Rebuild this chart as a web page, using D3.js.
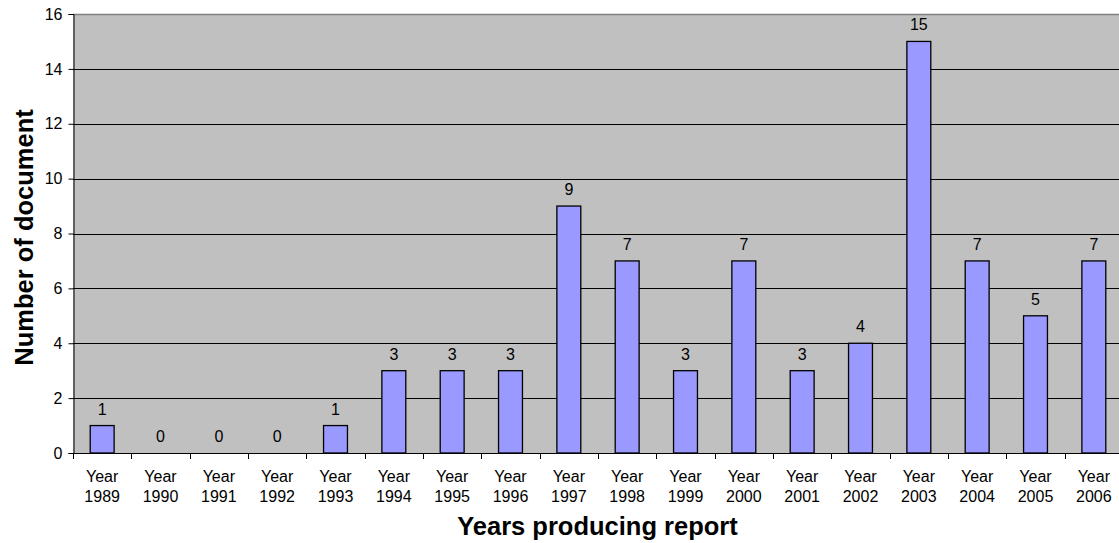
<!DOCTYPE html>
<html>
<head>
<meta charset="utf-8">
<script src="https://cdn.jsdelivr.net/npm/d3@7"></script>
<style>
  html, body { margin: 0; padding: 0; background: #ffffff; }
  svg { display: block; font-family: Arial, "Liberation Sans", sans-serif; }
</style>
</head>
<body>
<svg id="chart" width="1119" height="543"></svg>
<script>
// Reports produced per year
const years = ["1989","1990","1991","1992","1993","1994","1995","1996","1997",
               "1998","1999","2000","2001","2002","2003","2004","2005","2006"];
const counts = [1,0,0,0,1,3,3,3,9,7,3,7,3,4,15,7,5,7];
const yTicks = [0,2,4,6,8,10,12,14,16];

const svg = d3.select("#chart");
const plot = { left: 73, top: 14, width: 1050, height: 439 };
const labelSize = 16;
const titleSize = 25.5;

const x = d3.scaleBand()
  .domain(years)
  .range([plot.left, plot.left + plot.width]);

const bar = d3.scaleBand()
  .domain(years)
  .range([plot.left, plot.left + plot.width])
  .paddingInner(0.59)
  .paddingOuter(0.295);

const y = d3.scaleLinear()
  .domain([0, 16])
  .range([plot.top + plot.height, plot.top]);

// plot background
svg.append("rect")
  .attr("x", plot.left).attr("y", plot.top)
  .attr("width", plot.width).attr("height", plot.height)
  .attr("fill", "#c0c0c0");

// horizontal gridlines
svg.append("g")
  .selectAll("line")
  .data(yTicks.filter(d => d > 0 && d < 16))
  .join("line")
  .attr("x1", plot.left).attr("x2", plot.left + plot.width)
  .attr("y1", d => Math.round(y(d)) + 0.5).attr("y2", d => Math.round(y(d)) + 0.5)
  .attr("stroke", "#000").attr("stroke-width", 1);

// top border
svg.append("line")
  .attr("x1", plot.left).attr("x2", plot.left + plot.width)
  .attr("y1", Math.round(y(16)) + 0.5).attr("y2", Math.round(y(16)) + 0.5)
  .attr("stroke", "#808080").attr("stroke-width", 1.5);

// bars
svg.append("g")
  .selectAll("rect")
  .data(years.map((yr, i) => ({ yr, v: counts[i] })).filter(d => d.v > 0))
  .join("rect")
  .attr("x", d => bar(d.yr))
  .attr("y", d => y(d.v))
  .attr("width", bar.bandwidth())
  .attr("height", d => y(0) - y(d.v))
  .attr("fill", "#9999ff")
  .attr("stroke", "#000")
  .attr("stroke-width", 1.3);

// value labels
svg.append("g")
  .selectAll("text")
  .data(years.map((yr, i) => ({ yr, v: counts[i] })))
  .join("text")
  .attr("x", d => x(d.yr) + x.bandwidth() / 2)
  .attr("y", d => y(d.v) - 11)
  .attr("text-anchor", "middle")
  .attr("font-size", labelSize)
  .attr("fill", "#000")
  .text(d => d.v);

// y axis
const yAxis = svg.append("g")
  .attr("transform", `translate(${plot.left + 0.5},0)`)
  .call(d3.axisLeft(y).tickValues(yTicks).tickSize(5).tickPadding(6).tickFormat(d3.format("d")));
yAxis.selectAll("path, line").attr("stroke", "#000");
yAxis.selectAll("text").attr("font-size", labelSize).attr("fill", "#000")
  .attr("font-family", "Arial, 'Liberation Sans', sans-serif");

// x axis with ticks at category boundaries
const xBase = Math.round(y(0)) + 0.5;
svg.append("line")
  .attr("x1", plot.left).attr("x2", plot.left + plot.width)
  .attr("y1", xBase).attr("y2", xBase)
  .attr("stroke", "#000");
svg.append("g")
  .selectAll("line")
  .data(years)
  .join("line")
  .attr("x1", d => Math.round(x(d)) + 0.5).attr("x2", d => Math.round(x(d)) + 0.5)
  .attr("y1", xBase).attr("y2", xBase + 5.5)
  .attr("stroke", "#000");

const xl = svg.append("g")
  .selectAll("text")
  .data(years)
  .join("text")
  .attr("text-anchor", "middle")
  .attr("font-size", labelSize)
  .attr("fill", "#000");
xl.append("tspan")
  .attr("x", d => x(d) + x.bandwidth() / 2)
  .attr("y", 482)
  .text("Year");
xl.append("tspan")
  .attr("x", d => x(d) + x.bandwidth() / 2)
  .attr("y", 502)
  .text(d => d);

// axis titles
svg.append("text")
  .attr("x", 597.5).attr("y", 535)
  .attr("text-anchor", "middle")
  .attr("font-size", titleSize).attr("font-weight", "bold")
  .text("Years producing report");

svg.append("text")
  .attr("transform", "translate(33,237.5) rotate(-90)")
  .attr("text-anchor", "middle")
  .attr("font-size", titleSize).attr("font-weight", "bold")
  .text("Number of document");
</script>
</body>
</html>
